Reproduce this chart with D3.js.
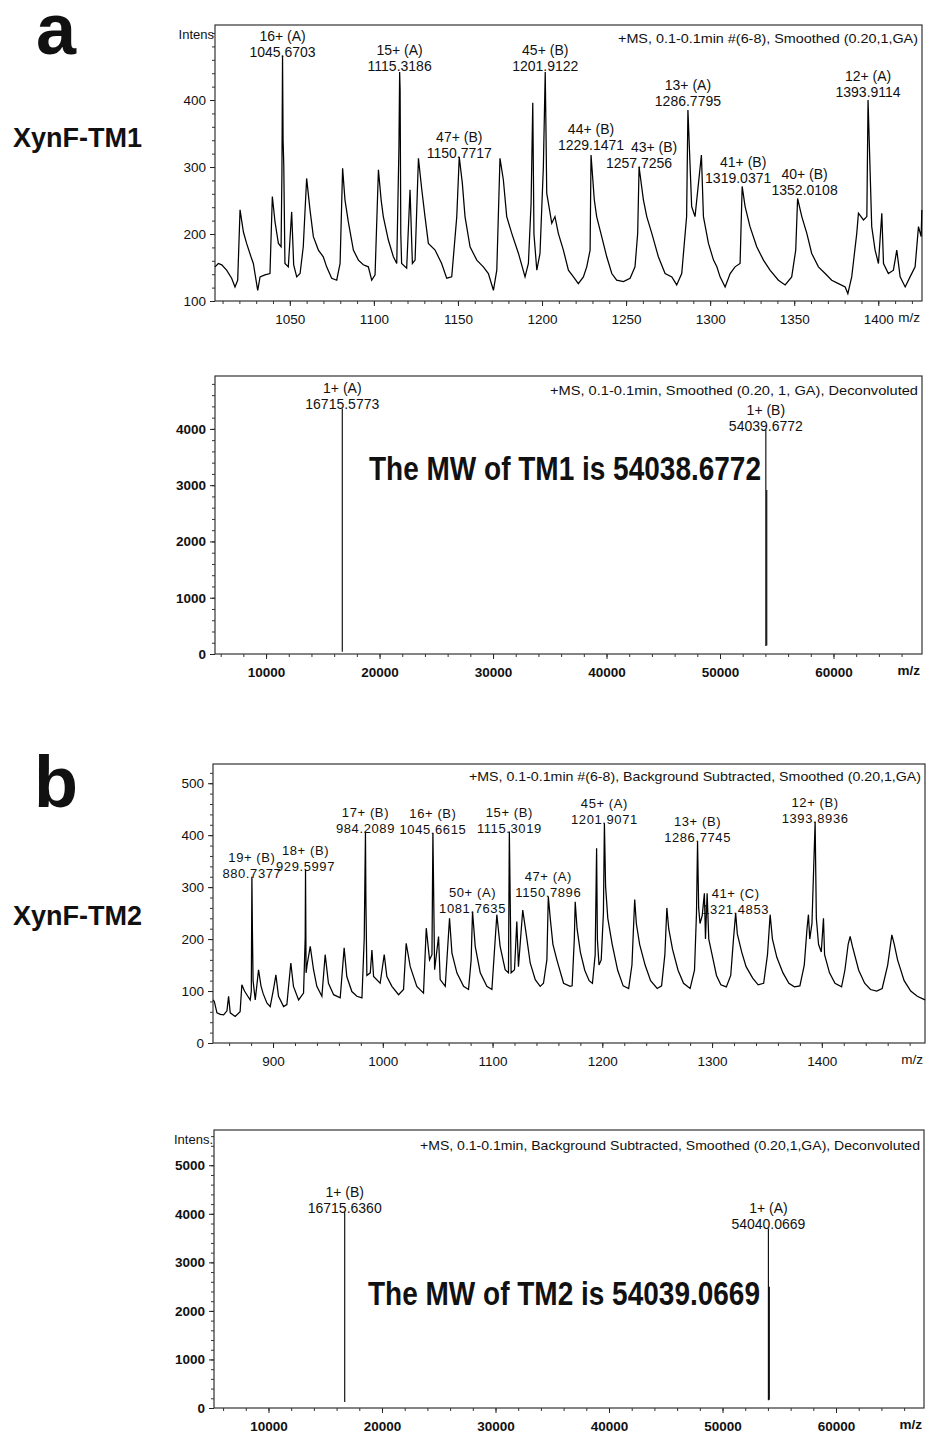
<!DOCTYPE html>
<html lang="en">
<head>
  <title>XynF-TM1 / XynF-TM2 mass spectra</title>
  <meta charset="utf-8">
  <script src="https://d3js.org/d3.v7.min.js"></script>
  <style>
    body { margin: 0; background: #fff; }
    svg text { font-family: "Liberation Sans", Arial, sans-serif; fill: #111; }
  </style>
</head>
<body>
<svg id="canvas"></svg>
<script>

// ************************************************************************************** //
// Data

// panel a, raw spectrum: [m/z, intensity]
var tm1Trace = [
  [1005.5,151],[1007.5,156],[1009.5,154],[1012.4,146],[1015.4,134],[1017.4,121],[1019,131],[1020.4,236],
  [1022.4,203],[1024.3,186],[1026.9,166],[1028.3,156],[1030.9,116],[1032.3,136],[1035.2,139],[1038.2,141],
  [1039.6,256],[1041.2,218],[1043.2,186],[1044.8,181],[1045.3,290],[1045.67,466],[1046.0,340],[1046.4,303],
  [1047.1,156],[1049.1,151],[1051.1,233],[1052.3,154],[1054.1,136],[1056.1,141],[1058,181],[1060,283],
  [1062,236],[1064,196],[1067,176],[1069.9,166],[1071.9,151],[1074.9,134],[1077.9,131],[1079.9,156],
  [1081.4,298],[1082.8,251],[1084.8,218],[1087.8,176],[1090.8,161],[1093.7,154],[1096.7,151],[1098.7,131],
  [1100.7,139],[1102.7,296],[1104.3,251],[1105.6,226],[1108.6,191],[1111.6,166],[1113.6,156],[1114.9,330],
  [1115.32,442],[1115.6,415],[1116.0,200],[1116.5,156],[1119.5,149],[1121.5,266],[1122.9,156],[1124.5,161],
  [1126.5,313],[1128.5,266],[1130.4,226],[1132.4,186],[1136.4,176],[1140.3,156],[1143.3,134],[1146.3,136],
  [1149.3,226],[1150.77,315],[1152.6,276],[1154.2,226],[1157.2,181],[1161.2,161],[1165.1,151],[1168.1,141],
  [1171.1,116],[1173.1,146],[1175,313],[1177,281],[1179,226],[1182,201],[1186,171],[1189.9,136],
  [1191.9,156],[1193.5,246],[1194.5,396],[1195.2,200],[1196.9,146],[1198.8,171],[1200.8,300],[1201.91,442],
  [1202.3,366],[1202.8,261],[1205.8,216],[1207.7,226],[1209.7,201],[1212.7,176],[1215.7,146],[1218.7,136],
  [1221.6,126],[1224.6,136],[1226.6,151],[1228.6,176],[1229.15,318],[1231.1,251],[1232.5,226],[1235.5,196],
  [1238.5,166],[1241.5,141],[1244.4,131],[1248.4,129],[1252.4,134],[1255.3,151],[1256.9,201],[1257.73,300],
  [1260.3,251],[1262.3,226],[1265.3,201],[1269.2,166],[1273.2,141],[1277.2,136],[1280.1,124],[1283.1,141],
  [1286,226],[1286.78,385],[1289.0,241],[1291.0,226],[1294.8,318],[1296,226],[1299,186],[1302,161],
  [1304,151],[1305.9,136],[1308.9,121],[1311.9,141],[1314.8,151],[1317.8,156],[1319.04,271],[1320.8,241],
  [1323.7,211],[1327.7,181],[1331.7,161],[1335.6,146],[1340.6,131],[1344.6,124],[1348.5,136],[1350.9,176],
  [1352.01,253],[1354.5,226],[1357.5,201],[1360.4,171],[1364.4,151],[1368.4,141],[1372.3,131],[1376.3,126],
  [1380.3,121],[1381.9,111],[1384.2,136],[1387.2,201],[1388.2,231],[1391.2,221],[1393.2,226],[1393.91,400],
  [1396.1,211],[1398.1,176],[1400.1,156],[1402.1,231],[1403.1,156],[1406.0,141],[1409.0,146],[1411.0,176],
  [1413.0,136],[1416.0,121],[1418.9,136],[1421.9,151],[1423.9,211],[1425.5,196],[1425.9,236]
];
// [charge label, m/z label, peak intensity]
var tm1Peaks = [
  ["16+ (A)","1045.6703",466], ["15+ (A)","1115.3186",442], ["47+ (B)","1150.7717",315],
  ["45+ (B)","1201.9122",442], ["44+ (B)","1229.1471",318], ["43+ (B)","1257.7256",300],
  ["13+ (A)","1286.7795",385], ["41+ (B)","1319.0371",271], ["40+ (B)","1352.0108",253],
  ["12+ (A)","1393.9114",400]
];
// panel a, deconvoluted: sticks [mass, low, high]
var tm1Sticks = [[16715.5773,40,4364],[54039.6772,140,3979],[54120,150,2913]];
var tm1DeconvPeaks = [["1+ (A)","16715.5773",4364],["1+ (B)","54039.6772",3979]];

// panel b, raw spectrum
var tm2Trace = [
  [845.3,83],[846.5,80],[848.9,58],[852,55],[855,54],[858,62],[859.5,90],[861,58],[865.5,51],[870,60],
  [871.6,112],[874,100],[877,90],[879.2,83],[880.2,100],[880.74,320],[881.2,218],[881.8,120],[883.8,83],
  [886.8,141],[889,110],[891,95],[894.4,77],[897.4,70],[900.4,103],[902.6,131],[905,90],[909.6,70],
  [912.6,74],[916.2,154],[918.6,109],[923.3,83],[927.8,96],[929.3,202],[929.6,333],[930.1,135],[931,150],
  [933.9,186],[936.9,141],[939.9,109],[944.5,90],[947.5,170],[950.5,115],[955.2,93],[961.2,87],[964.8,183],
  [967.2,128],[971.8,99],[976.4,90],[981,87],[983.1,202],[984.21,407],[984.6,275],[985.5,130],[988.6,135],
  [990.1,179],[991.6,128],[997.6,115],[1001.3,170],[1003.7,128],[1008.3,109],[1014.4,93],[1018.9,103],
  [1021.3,192],[1025,147],[1031,109],[1037.1,96],[1039.6,221],[1042.6,160],[1044.8,170],[1045.66,404],
  [1046.3,295],[1047.2,141],[1050.8,205],[1052.3,122],[1056.9,109],[1060.8,240],[1063,173],[1067.5,135],
  [1073.6,109],[1078.1,103],[1080.5,160],[1081.76,253],[1084.2,186],[1088.8,135],[1094.8,109],[1099.4,103],
  [1103.9,247],[1106.9,186],[1111.5,141],[1114.5,135],[1115.3,407],[1115.9,308],[1116.9,135],[1120,141],
  [1122.1,234],[1123.6,147],[1127.5,256],[1130.5,212],[1134.3,154],[1138.9,122],[1143.4,109],[1146.4,115],
  [1149.5,160],[1150.79,282],[1152.7,237],[1155,190],[1158.6,160],[1164.7,115],[1170.7,109],[1172.5,110],
  [1174.5,200],[1175.3,272],[1177,220],[1180,175],[1184,140],[1188,120],[1191,115],[1193.5,170],
  [1194.8,375],[1195.5,200],[1197,150],[1199,160],[1201.0,250],[1201.91,423],[1203,301],[1205,240],
  [1209,190],[1214,140],[1219,110],[1224,105],[1227,150],[1229.5,276],[1231,230],[1234,190],[1239,150],
  [1244,120],[1250,105],[1254,110],[1257,170],[1258.8,260],[1260.5,220],[1264,180],[1269,140],[1274,115],
  [1280,105],[1284,140],[1285.8,250],[1286.77,388],[1287.8,260],[1289,230],[1291,245],[1293,288],
  [1294,200],[1295.5,288],[1297,200],[1300,170],[1304,130],[1308,112],[1313,108],[1317,130],[1319.5,200],
  [1321.49,250],[1323,210],[1327,175],[1331,147],[1337,125],[1342,112],[1347,115],[1350.5,170],
  [1352.9,247],[1355,200],[1359,165],[1364.6,135],[1370,115],[1375,108],[1380,110],[1384,150],[1386.5,220],
  [1387.8,247],[1389,200],[1391,230],[1393.89,426],[1395,240],[1397,190],[1399.5,175],[1401.5,240],
  [1402.5,170],[1407,135],[1412,115],[1418,108],[1421,140],[1424,190],[1425.8,205],[1428,185],
  [1433.6,140],[1439,115],[1444.3,103],[1450,100],[1455,105],[1460,150],[1463.8,208],[1466,190],
  [1469,160],[1475,120],[1481,100],[1487,90],[1494,83]
];
var tm2Peaks = [
  ["19+ (B)","880.7377",320], ["18+ (B)","929.5997",333], ["17+ (B)","984.2089",407],
  ["16+ (B)","1045.6615",404], ["50+ (A)","1081.7635",253], ["15+ (B)","1115.3019",407],
  ["47+ (A)","1150.7896",282], ["45+ (A)","1201.9071",423], ["13+ (B)","1286.7745",388],
  ["41+ (C)","1321.4853",250], ["12+ (B)","1393.8936",426]
];
var tm2Sticks = [[16715.636,124,4041],[54040.0669,159,3699],[54120,170,2495]];
var tm2DeconvPeaks = [["1+ (B)","16715.6360",4041],["1+ (A)","54040.0669",3699]];

// axis ticks
var rawTicksA = d3.range(1050, 1401, 50), rawMinorA = d3.range(1010, 1426, 10);
var rawTicksB = d3.range(900, 1401, 100), rawMinorB = d3.range(860, 1494, 20);
var intTicksA = [100, 200, 300, 400], intMinorA = d3.range(100, 511, 20);
var intTicksB = [0, 100, 200, 300, 400, 500], intMinorB = d3.range(0, 536, 20);
var deconvTicks = d3.range(10000, 60001, 10000), deconvMinor = d3.range(6000, 67001, 2000);
var deconvIntA = [0, 1000, 2000, 3000, 4000], deconvIntB = [0, 1000, 2000, 3000, 4000, 5000];

// ************************************************************************************** //
// Drawing

var W = 930, H = 1437;
var svg = d3.select('#canvas').attr('width', W).attr('height', H);
svg.append('rect').attr('width', W).attr('height', H).attr('fill', '#fff');

var lineGen = d3.line();

// small hand nudges so crowded annotations sit like the original ones (px)
var labelNudge = {
  "15+ (A)": {dy: -2}, "45+ (B)": {dy: -2}, "44+ (B)": {dy: -6}, "43+ (B)": {cdx: 15},
  "13+ (A)": {dy: -5}, "12+ (A)": {dy: -4}, "41+ (B)": {dx: -4, dy: -4, cdx: 5}, "40+ (B)": {dx: 7, dy: -5}
};

function panel(o){
  var x = d3.scaleLinear().domain(o.xDomain).range([o.left, o.right]);
  var y = d3.scaleLinear().domain(o.yDomain).range([o.bottom, o.top]);
  var g = svg.append('g');

  // minor + major ticks on left and bottom
  g.append('g').attr('transform', 'translate(' + o.left + ',0)').attr('color', '#333')
    .call(d3.axisLeft(y).tickValues(o.yMinor).tickSize(3).tickFormat(''))
    .call(s => s.select('.domain').remove());
  g.append('g').attr('transform', 'translate(' + o.left + ',0)').attr('color', '#222')
    .call(d3.axisLeft(y).tickValues(o.yMajor).tickSize(5).tickPadding(4).tickFormat(d3.format('d')))
    .call(s => s.select('.domain').remove())
    .selectAll('text').style('font-size', o.tickSize).style('font-weight', o.tickWeight);
  g.append('g').attr('transform', 'translate(0,' + o.bottom + ')').attr('color', '#333')
    .call(d3.axisBottom(x).tickValues(o.xMinor).tickSize(3).tickFormat(''))
    .call(s => s.select('.domain').remove());
  g.append('g').attr('transform', 'translate(0,' + o.bottom + ')').attr('color', '#222')
    .call(d3.axisBottom(x).tickValues(o.xMajor).tickSize(5).tickPadding(8).tickFormat(d3.format('d')))
    .call(s => s.select('.domain').remove())
    .selectAll('text').style('font-size', o.tickSize).style('font-weight', o.tickWeight);

  g.append('text').attr('x', o.right - 2).attr('y', o.bottom + 21).attr('text-anchor', 'end')
    .style('font-size', o.tickSize).style('font-weight', o.tickWeight).text('m/z');

  // frame
  g.append('rect').attr('x', o.left).attr('y', o.top)
    .attr('width', o.right - o.left).attr('height', o.bottom - o.top)
    .attr('fill', 'none').attr('stroke', '#333').attr('stroke-width', 1.2);

  // spectrum
  if(o.trace){
    lineGen.x(d => x(d[0])).y(d => y(d[1]));
    g.append('path').datum(o.trace).attr('d', lineGen)
      .attr('fill', 'none').attr('stroke', '#000').attr('stroke-width', 1.25).attr('stroke-linejoin', 'miter');
  }
  if(o.sticks){
    g.selectAll(null).data(o.sticks).enter().append('line')
      .attr('x1', d => x(d[0])).attr('x2', d => x(d[0]))
      .attr('y1', d => y(d[1])).attr('y2', d => y(d[2]))
      .attr('stroke', '#000').attr('stroke-width', 1.1);
  }

  // peak annotations
  var nudge = d => (o.nudge && o.nudge[d[0]]) || {};
  var lab = g.selectAll(null).data(o.peaks).enter().append('g')
    .attr('transform', d => 'translate(' + (x(+d[1]) + (nudge(d).dx || 0)) + ',' + (y(d[2]) + 1 + (nudge(d).dy || 0)) + ')')
    .attr('text-anchor', 'middle').style('font-size', o.labelSize).style('letter-spacing', o.labelSpacing);
  lab.append('text').attr('x', d => nudge(d).cdx || 0).attr('y', -16).text(d => d[0]);
  lab.append('text').attr('y', 0).text(d => d[1]);

  // header
  g.append('text').attr('x', o.right - 4).attr('y', o.headerY).attr('text-anchor', 'end')
    .attr('textLength', o.headerLen).attr('lengthAdjust', 'spacingAndGlyphs')
    .style('font-size', '13px').text(o.header);

  if(o.intens){
    g.append('text').attr('x', o.left - 1).attr('y', o.top + 14).attr('text-anchor', 'end')
      .style('font-size', '13px').text(o.intens);
  }
  if(o.mw){
    g.append('text').attr('x', o.mwX).attr('y', o.mwY).attr('textLength', 392)
      .attr('lengthAdjust', 'spacingAndGlyphs')
      .style('font-size', '34px').style('font-weight', 'bold').text(o.mw);
  }
  return g;
}

panel({ xDomain: [1005.5, 1426], yDomain: [100, 512], left: 215, right: 922, top: 25, bottom: 301,
  xMajor: rawTicksA, xMinor: rawMinorA, yMajor: intTicksA, yMinor: intMinorA,
  tickSize: '13.5px', tickWeight: 'normal', trace: tm1Trace, peaks: tm1Peaks, nudge: labelNudge,
  labelSize: '14px', labelSpacing: '0px',
  header: '+MS, 0.1-0.1min #(6-8), Smoothed (0.20,1,GA)', headerY: 43, headerLen: 300, intens: 'Intens' });

panel({ xDomain: [5500, 67800], yDomain: [0, 4940], left: 215, right: 922, top: 376, bottom: 654,
  xMajor: deconvTicks, xMinor: deconvMinor, yMajor: deconvIntA, yMinor: d3.range(0, 4900, 200),
  tickSize: '13.5px', tickWeight: 'bold', sticks: tm1Sticks, peaks: tm1DeconvPeaks,
  labelSize: '14px', labelSpacing: '0px',
  header: '+MS, 0.1-0.1min, Smoothed (0.20, 1, GA), Deconvoluted', headerY: 395, headerLen: 368,
  mw: 'The MW of TM1 is 54038.6772', mwX: 369, mwY: 480 });

panel({ xDomain: [845.3, 1494], yDomain: [0, 537], left: 213, right: 925, top: 764, bottom: 1043,
  xMajor: rawTicksB, xMinor: rawMinorB, yMajor: intTicksB, yMinor: intMinorB,
  tickSize: '13.5px', tickWeight: 'normal', trace: tm2Trace, peaks: tm2Peaks,
  labelSize: '13px', labelSpacing: '0.6px',
  header: '+MS, 0.1-0.1min #(6-8), Background Subtracted, Smoothed (0.20,1,GA)', headerY: 781, headerLen: 452 });

panel({ xDomain: [5200, 67750], yDomain: [0, 5726], left: 214, right: 924, top: 1130, bottom: 1408,
  xMajor: deconvTicks, xMinor: deconvMinor, yMajor: deconvIntB, yMinor: d3.range(0, 5700, 200),
  tickSize: '13.5px', tickWeight: 'bold', sticks: tm2Sticks, peaks: tm2DeconvPeaks,
  labelSize: '14px', labelSpacing: '0px',
  header: '+MS, 0.1-0.1min, Background Subtracted, Smoothed (0.20,1,GA), Deconvoluted', headerY: 1150, headerLen: 500,
  intens: 'Intens.', mw: 'The MW of TM2 is 54039.0669', mwX: 368, mwY: 1305 });

// panel letters and sample names
svg.append('text').attr('x', 36).attr('y', 54).style('font-size', '72px').style('font-weight', 'bold').text('a');
svg.append('text').attr('x', 34).attr('y', 807).style('font-size', '72px').style('font-weight', 'bold').text('b');
svg.append('text').attr('x', 13).attr('y', 147).style('font-size', '27px').style('font-weight', 'bold').text('XynF-TM1');
svg.append('text').attr('x', 13).attr('y', 925).style('font-size', '27px').style('font-weight', 'bold').text('XynF-TM2');

</script>
</body>
</html>
